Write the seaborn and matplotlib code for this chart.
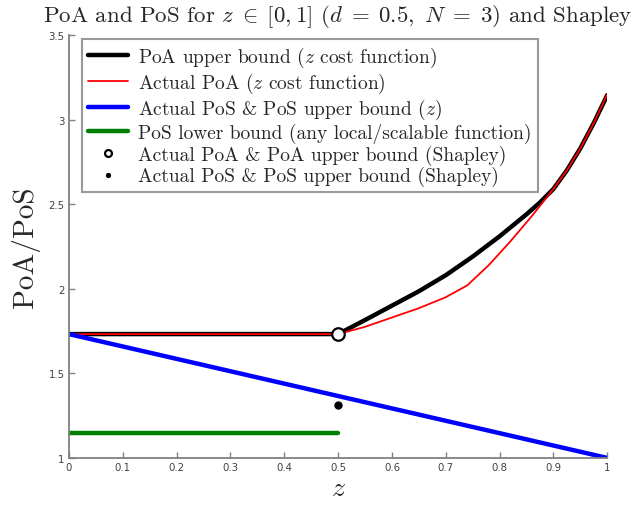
"""PoA / PoS bounds vs z, with Shapley points."""
import matplotlib
matplotlib.use("Agg")
import matplotlib.pyplot as plt
import numpy as np
import seaborn as sns

# z cost function: PoA upper bound (smooth) and actual PoA (coarse samples)
z_bound = [0.0, 0.5, 0.55, 0.6, 0.65, 0.7, 0.75, 0.8, 0.85, 0.875, 0.9, 0.925, 0.95, 0.975, 1.0]
poa_bound = [1.732, 1.732, 1.815, 1.90, 1.985, 2.08, 2.19, 2.31, 2.44, 2.51, 2.59, 2.70, 2.83, 2.98, 3.145]
z_actual = [0.0, 0.5, 0.55, 0.6, 0.65, 0.7, 0.74, 0.78, 0.82, 0.86, 0.9, 0.925, 0.95, 0.975, 1.0]
poa_actual = [1.732, 1.732, 1.775, 1.83, 1.885, 1.95, 2.02, 2.14, 2.28, 2.43, 2.59, 2.70, 2.83, 2.98, 3.15]
# PoS (z) and PoS lower bound
z_pos = [0.0, 1.0]
pos_z = [1.732, 1.0]
z_lower = [0.0, 0.5]
pos_lower = [1.15, 1.15]
# Shapley
shapley_z = [0.5]
shapley_poa = [1.732]
shapley_pos = [1.31]

labels = [
    r"PoA upper bound ($z$ cost function)",
    r"Actual PoA ($z$ cost function)",
    r"Actual PoS & PoS upper bound ($z$)",
    r"PoS lower bound (any local/scalable function)",
    r"Actual PoA & PoA upper bound (Shapley)",
    r"Actual PoS & PoS upper bound (Shapley)",
]


def main() -> None:
    sns.set_style("ticks")
    plt.rcParams["font.family"] = ["cmr10", "DejaVu Serif"]
    plt.rcParams["mathtext.fontset"] = "cm"
    plt.rcParams["axes.unicode_minus"] = False
    plt.rcParams["axes.formatter.use_mathtext"] = True

    fig = plt.figure(figsize=(6.44, 5.06), dpi=100)
    ax = fig.add_axes([0.107, 0.093, 0.836, 0.836])

    sns.lineplot(x=z_bound, y=poa_bound, color="black", lw=3.2, label=labels[0], ax=ax)
    sns.lineplot(x=z_actual, y=poa_actual, color="red", lw=1.3, label=labels[1], ax=ax)
    sns.lineplot(x=z_pos, y=pos_z, color="blue", lw=3.2, label=labels[2], ax=ax)
    sns.lineplot(x=z_lower, y=pos_lower, color="green", lw=3.2, label=labels[3], ax=ax)
    ax.plot(shapley_z, shapley_poa, "o", ms=9, mfc="white", mec="black", mew=1.6,
            ls="none", label=labels[4], zorder=5)
    ax.plot(shapley_z, shapley_pos, "o", ms=5, color="black", ls="none",
            label=labels[5], zorder=5)

    ax.set_xlim(0, 1)
    ax.set_ylim(1, 3.5)
    ax.set_xticks(np.arange(0, 1.01, 0.1))
    ax.set_xticklabels(["0", "0.1", "0.2", "0.3", "0.4", "0.5", "0.6", "0.7", "0.8", "0.9", "1"])
    ax.set_yticks([1, 1.5, 2, 2.5, 3, 3.5])
    ax.set_yticklabels(["1", "1.5", "2", "2.5", "3", "3.5"])
    for lab in ax.get_xticklabels() + ax.get_yticklabels():
        lab.set_family("DejaVu Sans")
        lab.set_fontsize(7.3)
        lab.set_color("#404040")
    ax.tick_params(direction="in", length=4, width=1, color="#808080", pad=3)
    for side in ("top", "right"):
        ax.spines[side].set_visible(False)
    for side in ("left", "bottom"):
        ax.spines[side].set_color("#808080")
        ax.spines[side].set_linewidth(1.3)

    ax.set_xlabel(r"$z$", fontsize=20, labelpad=2)
    ax.set_ylabel("PoA/PoS", fontsize=21, labelpad=6)
    ax.set_title(r"PoA and PoS for $z \;\in\; [0,1]$ ($d \;=\; 0.5,\ N \;=\; 3$) and Shapley",
                 fontsize=16.5, pad=10)

    leg = ax.legend(loc="upper left", bbox_to_anchor=(0.024, 0.99), fontsize=14,
                    frameon=True, fancybox=False, markerscale=0.55,
                    handlelength=2.1, handletextpad=0.5, labelspacing=0.09,
                    borderpad=0.3, borderaxespad=0.0)
    leg.get_frame().set_edgecolor("#808080")
    leg.get_frame().set_linewidth(1.5)

    fig.savefig("out.png", dpi=100, facecolor="white")
    plt.close(fig)


if __name__ == "__main__":
    main()
